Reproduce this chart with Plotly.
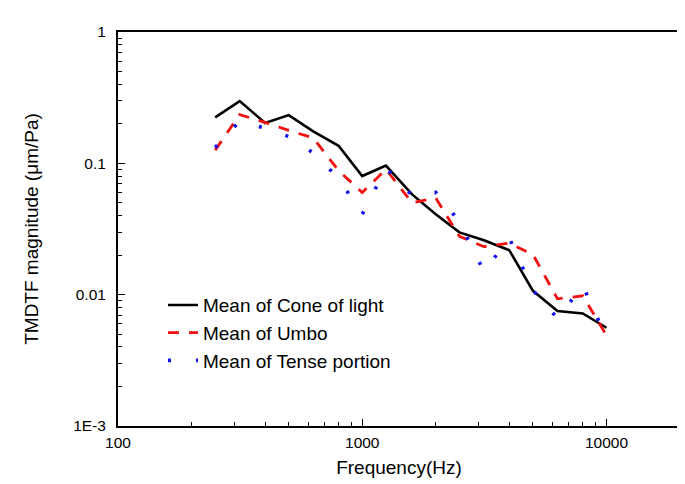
import plotly.graph_objects as go

freq = [250, 315, 400, 500, 630, 800, 1000, 1250, 1600, 2000, 2500, 3150, 4000, 5000, 6300, 8000, 10000]
cone_of_light = [0.224, 0.298, 0.203, 0.233, 0.175, 0.136, 0.080, 0.096, 0.058, 0.041, 0.0298, 0.026, 0.0218, 0.0107, 0.0075, 0.0072, 0.0056]
umbo = [0.126, 0.235, 0.205, 0.178, 0.156, 0.088, 0.060, 0.090, 0.050, 0.0544, 0.0278, 0.0232, 0.0247, 0.0202, 0.0093, 0.0098, 0.0049]
tense_portion = [0.132, 0.21, 0.185, 0.16, 0.12, 0.077, 0.041, 0.092, 0.057, 0.060, 0.036, 0.015, 0.027, 0.0108, 0.0066, 0.0117, 0.0047]

names = ["Mean of Cone of light", "Mean of Umbo", "Mean of Tense portion"]

x_tickvals = [100, 1000, 10000]
x_ticktext = ["100", "1000", "10000"]
y_tickvals = [0.001, 0.01, 0.1, 1]
y_ticktext = ["1E-3", "0.01", "0.1", "1"]

x_minor = [m * d for d in (100, 1000, 10000) for m in range(2, 10) if m * d <= 20000]
y_minor = [m * d for d in (0.001, 0.01, 0.1) for m in range(2, 10)]

fig = go.Figure()
fig.add_trace(go.Scatter(x=freq, y=cone_of_light, mode="lines", name=names[0],
                         line=dict(color="black", width=2.6)))
fig.add_trace(go.Scatter(x=freq, y=umbo, mode="lines", name=names[1],
                         line=dict(color="#f01010", width=2.8, dash="11px,10px")))
fig.add_trace(go.Scatter(x=freq, y=tense_portion, mode="lines", name=names[2],
                         line=dict(color="#1010ee", width=3.6, dash="3px,25px")))

font_family = "Liberation Sans, Arial, sans-serif"

fig.update_layout(
    width=685, height=484,
    paper_bgcolor="white", plot_bgcolor="white",
    margin=dict(l=110, r=13, t=24, b=66),
    font=dict(family=font_family, size=15.5, color="black"),
    showlegend=True,
    legend=dict(x=0.08, y=0.355, xanchor="left", yanchor="top",
                bgcolor="rgba(0,0,0,0)", font=dict(size=19),
                tracegroupgap=0),
    xaxis=dict(type="log", range=[2, 4.30103],
               tickvals=x_tickvals, ticktext=x_ticktext,
               ticks="inside", ticklen=7, tickwidth=1.2, tickcolor="black",
               ticklabelstandoff=1,
               minor=dict(tickvals=x_minor, ticks="inside", ticklen=4, tickwidth=1, tickcolor="black", showgrid=False),
               showline=True, linecolor="black", linewidth=2, mirror=True,
               showgrid=False, zeroline=False,
               title=dict(text="Frequency(Hz)", font=dict(size=19), standoff=11)),
    yaxis=dict(type="log", range=[-3, 0],
               tickvals=y_tickvals, ticktext=y_ticktext,
               ticks="inside", ticklen=7, tickwidth=1.2, tickcolor="black",
               ticklabelstandoff=7,
               minor=dict(tickvals=y_minor, ticks="inside", ticklen=4, tickwidth=1, tickcolor="black", showgrid=False),
               showline=True, linecolor="black", linewidth=2, mirror=True,
               showgrid=False, zeroline=False,
               title=dict(text="TMDTF magnitude (μm/Pa)", font=dict(size=19), standoff=30)),
)

fig.write_html("out.html")
